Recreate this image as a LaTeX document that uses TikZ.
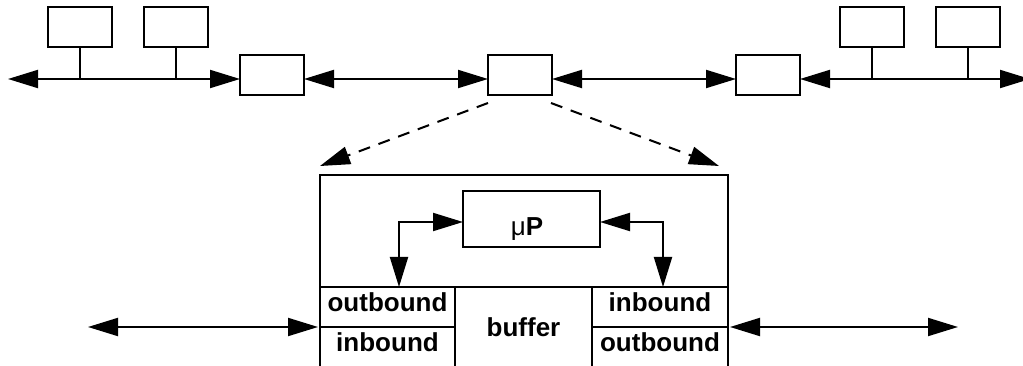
\documentclass[tikz,border=0pt]{standalone}
\usepackage{fontspec}
\setmainfont{Liberation Sans}
\usetikzlibrary{arrows.meta}
\begin{document}
\begin{tikzpicture}[x=1pt,y=-1pt,
  line width=2pt,
  box/.style={draw,line width=2pt,minimum width=64pt,minimum height=40pt,inner sep=0pt,outer sep=0pt},
  tip/.style={-{Triangle[length=30pt,width=18pt]}},
  dbl/.style={{Triangle[length=30pt,width=18pt]}-{Triangle[length=30pt,width=18pt]}},
  lbl/.style={font=\fontsize{26}{30}\selectfont\bfseries,anchor=base,inner sep=0pt}]
\useasboundingbox (0,0) rectangle (1023,366);
\clip (0,0) rectangle (1023,366);

% ---- top network: bus segments, routers and hosts ----
\coordinate (lt) at (8,79);
\coordinate (rt) at (1030,79);
\node[box] (ra) at (272,75) {};
\node[box] (rm) at (520,75) {};
\node[box] (rc) at (768,75) {};
\node[box] (h1) at (80,27) {};
\node[box] (h2) at (176,27) {};
\node[box] (h3) at (872,27) {};
\node[box] (h4) at (968,27) {};

\draw[dbl] (lt) -- (ra.west |- lt);
\draw[dbl] (ra.east |- lt) -- (rm.west |- lt);
\draw[dbl] (rm.east |- lt) -- (rc.west |- lt);
\draw[dbl] (rc.east |- lt) -- (rt);
\foreach \h in {h1,h2,h3,h4} \draw (\h.south) -- (\h.south |- lt);

% ---- dashed zoom arrows ----
\coordinate (zl0) at (488,103);
\coordinate (zl1) at (320,166);
\coordinate (zr0) at (551,103);
\coordinate (zr1) at (719,166);
\draw[tip,dashed,dash pattern=on 12pt off 9pt] (zl0) -- (zl1);
\draw[tip,dashed,dash pattern=on 12pt off 9pt] (zr0) -- (zr1);

% ---- router detail ----
\draw (320,366) -- (320,175) -- (728,175) -- (728,366);
\draw (320,287) -- (728,287);
\draw (320,327) -- (455,327);
\draw (592,327) -- (728,327);
\draw (455,287) -- (455,366);
\draw (592,287) -- (592,366);

\node[box,minimum width=137pt,minimum height=56pt] (mu) at (531.5,219) {};
\node[lbl] (mut) at (527,236) {{\mdseries μ}P};

\node[lbl] (o1) at (387.5,311.5) {outbound};
\node[lbl] (i1) at (387.5,351.5) {inbound};
\node[lbl] (bf) at (523.5,336) {buffer};
\node[lbl] (i2) at (660,311.5) {inbound};
\node[lbl] (o2) at (660,351.5) {outbound};

\coordinate (pl) at (399,287);
\coordinate (pr) at (663,287);
\coordinate (ml) at (463,222);
\coordinate (mr) at (600,222);
\draw[dbl] (ml) -| (pl);
\draw[dbl] (mr) -| (pr);

% ---- side links ----
\coordinate (al) at (88,327);
\coordinate (ar) at (318,327);
\coordinate (bl) at (730,327);
\coordinate (br) at (958,327);
\draw[dbl] (al) -- (ar);
\draw[dbl] (bl) -- (br);
\end{tikzpicture}
\end{document}
